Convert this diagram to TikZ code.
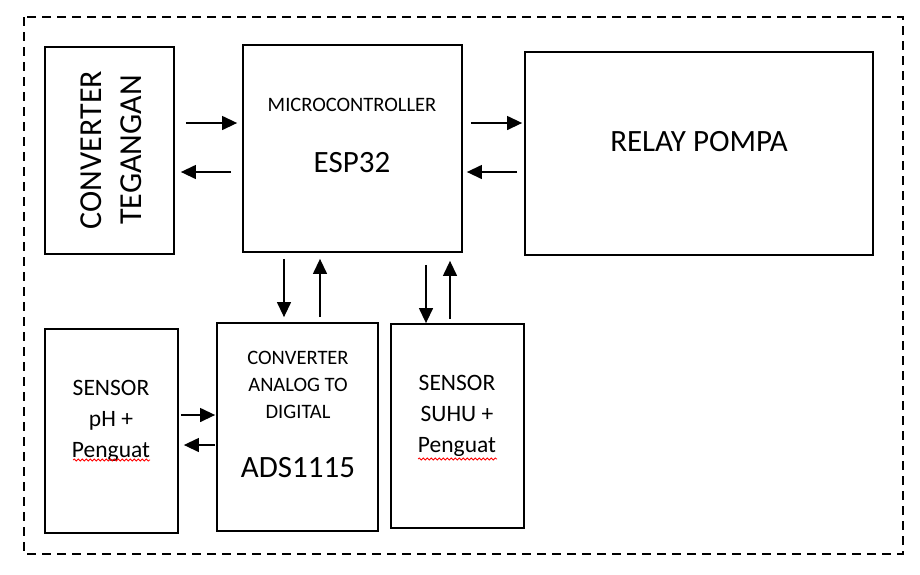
\documentclass[tikz,border=0pt]{standalone}
\usepackage{fontspec}
\setmainfont{Carlito}
\usetikzlibrary{arrows.meta,decorations.pathmorphing}

\tikzset{
  box/.style={draw,line width=1.8pt,inner sep=0pt},
  arr/.style={line width=1.3pt,-{Triangle[length=15pt,width=14pt]}},
  bigtxt/.style={font=\fontsize{31}{40}\selectfont,align=center},
  smalltxt/.style={font=\fontsize{20.5}{27}\selectfont,align=center},
  sentxt/.style={font=\fontsize{23.5}{31}\selectfont,align=center},
  squiggle/.style={red,line width=0.8pt,decorate,decoration={snake,segment length=4pt,amplitude=1pt}}
}

\begin{document}
\begin{tikzpicture}[x=1pt,y=-1pt]
    \useasboundingbox (0,0) rectangle (920,574);

    % Outer frame
    \draw[line width=1.8pt,dash pattern=on 9pt off 6pt] (24,17) rectangle (903,554);

    % Blocks
    \node at (109.5,150.5) [box,minimum width=129pt,minimum height=207pt] (conv) {};
    \node at (352.5,148.5) [box,minimum width=219pt,minimum height=207pt] (mcu) {};
    \node at (699,153.5) [box,minimum width=348pt,minimum height=203pt] (relay) {};
    \node at (111.5,431) [box,minimum width=133pt,minimum height=204pt] (ph) {};
    \node at (297.5,427) [box,minimum width=161pt,minimum height=208pt] (adc) {};
    \node at (457.5,426) [box,minimum width=133pt,minimum height=204pt] (suhu) {};

    % Texts
    \node at (111,150) [bigtxt,font=\fontsize{32}{40}\selectfont,rotate=90] (convtxt) {CONVERTER\\TEGANGAN};
    \node at (352,105) [smalltxt] (mcutxt) {MICROCONTROLLER};
    \node at (352,163) [bigtxt] (esptxt) {ESP32};
    \node at (699,142) [bigtxt] (relaytxt) {RELAY POMPA};
    \node at (111,421) [sentxt] (phtxt) {SENSOR\\pH +\\Penguat};
    \node at (298,385) [smalltxt] (adctxt) {CONVERTER\\ANALOG TO\\DIGITAL};
    \node at (298,468) [bigtxt] (adstxt) {ADS1115};
    \node at (457,416) [sentxt] (suhutxt) {SENSOR\\SUHU +\\Penguat};

    % Spelling marks
    \draw[squiggle] (73,460) -- (150,460);
    \draw[squiggle] (418,459) -- (497,459);

    % Arrows
    \draw[arr,shorten <=11pt,shorten >=5pt] (conv.east |- 0,123) -- (mcu.west |- 0,123);
    \draw[arr,shorten <=11pt,shorten >=6pt] (mcu.west |- 0,172) -- (conv.east |- 0,172);
    \draw[arr,shorten <=8pt,shorten >=2pt] (mcu.east |- 0,123) -- (relay.west |- 0,123);
    \draw[arr,shorten <=7pt,shorten >=4pt] (relay.west |- 0,172) -- (mcu.east |- 0,172);
    \draw[arr,shorten <=6pt,shorten >=5pt] (mcu.south -| 284,0) -- (adc.north -| 284,0);
    \draw[arr,shorten <=5pt,shorten >=6pt] (adc.north -| 320,0) -- (mcu.south -| 320,0);
    \draw[arr,shorten <=12pt,shorten >=0pt] (mcu.south -| 426,0) -- (suhu.north -| 426,0);
    \draw[arr,shorten <=4pt,shorten >=8pt] (suhu.north -| 450,0) -- (mcu.south -| 450,0);
    \draw[arr,shorten <=2pt,shorten >=1pt] (ph.east |- 0,415) -- (adc.west |- 0,415);
    \draw[arr,shorten <=1pt,shorten >=5pt] (adc.west |- 0,445) -- (ph.east |- 0,445);
\end{tikzpicture}
\end{document}
